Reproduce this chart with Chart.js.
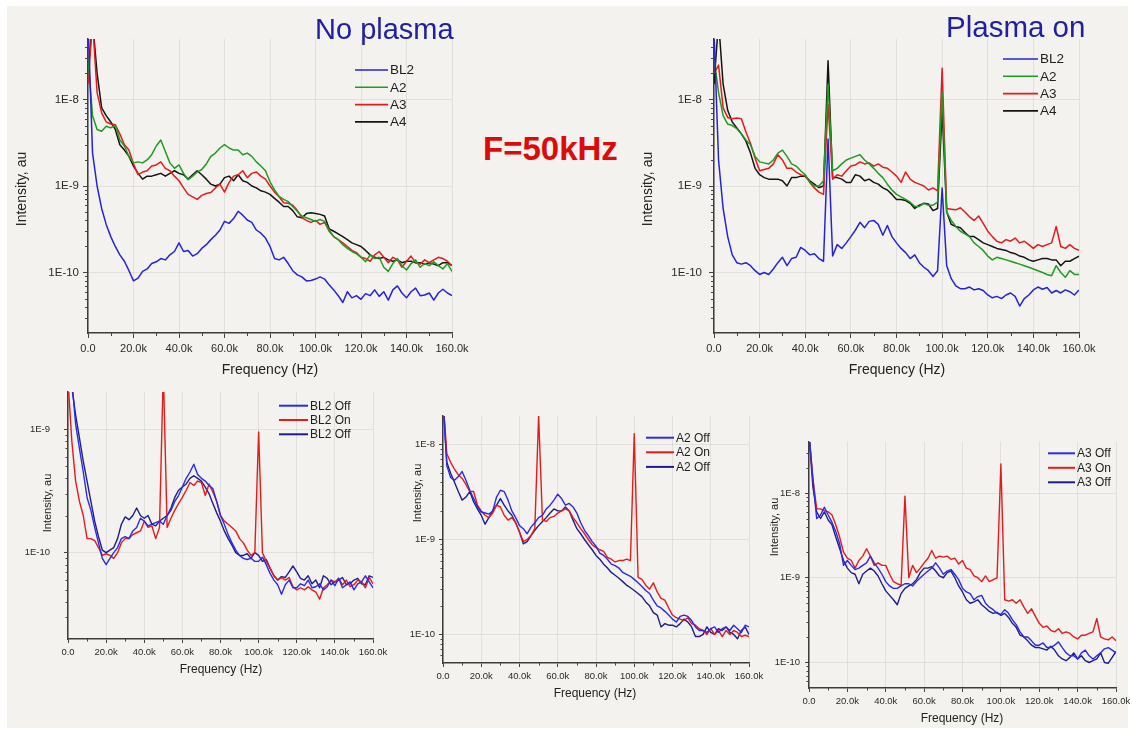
<!DOCTYPE html>
<html><head><meta charset="utf-8">
<script src="https://cdn.jsdelivr.net/npm/chart.js@4.4.1/dist/chart.umd.min.js"></script>
<style>
html,body{margin:0;padding:0;background:#fff;}
#page{position:relative;width:1132px;height:729px;overflow:hidden;background:#fff;font-family:'Liberation Sans',Arial,sans-serif;}
#bg{position:absolute;left:7px;top:6px;width:1121px;height:722px;background:#f3f2ee;}
canvas{position:absolute;}
.ttl{position:absolute;white-space:nowrap;line-height:1;}
#t1{left:315px;top:15px;font-size:29px;color:#2020a0;}
#t2{left:946px;top:12px;font-size:29.5px;color:#2020a0;}
#t3{left:483px;top:132px;font-size:33px;font-weight:bold;color:#dd0a0a;}
</style></head>
<body><div id="page"><div id="bg"></div>
<canvas id="c1"></canvas><canvas id="c2"></canvas><canvas id="c3"></canvas><canvas id="c4"></canvas><canvas id="c5"></canvas>
<div class="ttl" id="t1">No plasma</div>
<div class="ttl" id="t2">Plasma on</div>
<div class="ttl" id="t3">F=50kHz</div>
</div>
<script>
// ---------- categories (frequency, kHz) ----------
const FREQ_KHZ = [0,2,4,6,8,10,12,14,16,18,20,22,24,26,28,30,32,34,36,38,40,42,44,46,48,50,52,54,56,58,60,62,64,66,68,70,72,74,76,78,80,82,84,86,88,90,92,94,96,98,100,102,104,106,108,110,112,114,116,118,120,122,124,126,128,130,132,134,136,138,140,142,144,146,148,150,152,154,156,158,160];
const X_TICKS = [0,20,40,60,80,100,120,140,160];
const X_TICK_LABELS = ['0.0','20.0k','40.0k','60.0k','80.0k','100.0k','120.0k','140.0k','160.0k'];
const X_MINOR = [10,30,50,70,90,110,130,150];
const Y_TICKS_3DEC = [1e-10,1e-9,1e-8];
const Y_LABELS_3DEC = ['1E-10','1E-9','1E-8'];
const Y_TICKS_2DEC = [1e-10,1e-9];
const Y_LABELS_2DEC = ['1E-10','1E-9'];

// ---------- Panel 1: No plasma ----------
const NP_BL2 = [
8e-8,2.4e-9,1.0e-9,5.5e-10,3.6e-10,2.6e-10,2.0e-10,1.6e-10,1.35e-10,1.05e-10,
8.0e-11,8.6e-11,1.03e-10,1.1e-10,1.27e-10,1.33e-10,1.45e-10,1.4e-10,1.6e-10,1.75e-10,
2.2e-10,1.75e-10,1.8e-10,1.55e-10,1.65e-10,1.9e-10,2.1e-10,2.4e-10,2.7e-10,3.1e-10,
3.9e-10,3.7e-10,4.2e-10,5.1e-10,4.6e-10,4.05e-10,3.8e-10,3.1e-10,2.85e-10,2.5e-10,
2.0e-10,1.45e-10,1.4e-10,1.5e-10,1.27e-10,1.05e-10,9.4e-11,8.9e-11,8.0e-11,8.1e-11,
8.4e-11,8.9e-11,8.4e-11,7.2e-11,6.3e-11,5.4e-11,4.5e-11,6.0e-11,5.1e-11,5.4e-11,
4.9e-11,5.7e-11,5.4e-11,6.3e-11,5.3e-11,6.0e-11,4.8e-11,6.3e-11,7.0e-11,5.8e-11,
5.1e-11,6.0e-11,6.6e-11,5.4e-11,5.5e-11,5.8e-11,4.8e-11,5.8e-11,6.4e-11,5.8e-11,
5.4e-11];
const NP_A2 = [
3e-8,6.5e-9,4.5e-9,4.3e-9,4.9e-9,4.7e-9,5.1e-9,3.4e-9,2.9e-9,2.2e-9,
1.85e-9,1.9e-9,1.85e-9,2.0e-9,2.3e-9,2.9e-9,3.4e-9,2.5e-9,1.85e-9,1.6e-9,
1.75e-9,1.4e-9,1.18e-9,1.3e-9,1.45e-9,1.55e-9,1.8e-9,2.2e-9,2.4e-9,2.75e-9,
3.0e-9,2.75e-9,2.6e-9,2.6e-9,2.3e-9,2.4e-9,2.2e-9,1.9e-9,1.7e-9,1.5e-9,
1.12e-9,9.0e-10,7.6e-10,7.0e-10,6.6e-10,5.8e-10,5.1e-10,4.5e-10,4.3e-10,4.1e-10,
3.9e-10,4.1e-10,3.9e-10,3.1e-10,2.6e-10,2.4e-10,2.1e-10,1.9e-10,1.75e-10,1.65e-10,
1.5e-10,1.33e-10,1.6e-10,1.45e-10,1.5e-10,1.15e-10,1.03e-10,1.27e-10,1.45e-10,1.2e-10,
1.07e-10,1.27e-10,1.4e-10,1.15e-10,1.27e-10,1.2e-10,1.33e-10,1.2e-10,1.1e-10,1.27e-10,
1.03e-10];
const NP_A3 = [
1.5e-8,8e-8,1.2e-8,7e-9,5.5e-9,5.2e-9,5.1e-9,4.0e-9,3.0e-9,2.6e-9,
1.8e-9,1.35e-9,1.45e-9,1.5e-9,1.7e-9,1.75e-9,1.9e-9,1.6e-9,1.5e-9,1.3e-9,
1.15e-9,9.5e-10,8.0e-10,7.5e-10,7.0e-10,7.8e-10,8.2e-10,8.4e-10,9.5e-10,1.05e-9,
8.5e-10,1.1e-9,1.3e-9,1.35e-9,1.5e-9,1.25e-9,1.4e-9,1.45e-9,1.3e-9,1.2e-9,
1.0e-9,8.5e-10,7.5e-10,6.4e-10,6.3e-10,6.0e-10,5.2e-10,4.3e-10,4.0e-10,3.8e-10,
4.0e-10,3.6e-10,3.8e-10,3.0e-10,2.6e-10,2.4e-10,2.2e-10,2.0e-10,1.8e-10,1.7e-10,
1.5e-10,1.45e-10,1.35e-10,1.6e-10,1.75e-10,1.5e-10,1.3e-10,1.5e-10,1.4e-10,1.15e-10,
1.35e-10,1.55e-10,1.3e-10,1.25e-10,1.4e-10,1.3e-10,1.4e-10,1.5e-10,1.45e-10,1.35e-10,
1.2e-10];
const NP_A4 = [
2e-8,8e-8,2e-8,8e-9,6.5e-9,5.5e-9,4.5e-9,3.0e-9,2.6e-9,2.2e-9,
1.7e-9,1.4e-9,1.2e-9,1.3e-9,1.3e-9,1.35e-9,1.4e-9,1.3e-9,1.4e-9,1.5e-9,
1.4e-9,1.35e-9,1.2e-9,1.35e-9,1.5e-9,1.35e-9,1.2e-9,1.05e-9,1.0e-9,1.05e-9,
1.25e-9,1.3e-9,1.15e-9,1.35e-9,1.15e-9,1.1e-9,1.0e-9,9.5e-10,8.8e-10,8.5e-10,
8.0e-10,7.2e-10,6.5e-10,5.8e-10,5.8e-10,5.2e-10,4.4e-10,4.3e-10,4.8e-10,4.9e-10,
4.8e-10,4.7e-10,4.5e-10,3.2e-10,3.0e-10,2.8e-10,2.6e-10,2.4e-10,2.2e-10,2.1e-10,
2.0e-10,1.8e-10,1.6e-10,1.5e-10,1.45e-10,1.5e-10,1.4e-10,1.35e-10,1.4e-10,1.3e-10,
1.35e-10,1.35e-10,1.3e-10,1.3e-10,1.25e-10,1.3e-10,1.25e-10,1.2e-10,1.3e-10,1.3e-10,
1.2e-10];

// ---------- Panel 2: Plasma on ----------
const PO_BL2 = [
6e-8,2e-9,5.5e-10,2.6e-10,1.6e-10,1.3e-10,1.25e-10,1.3e-10,1.2e-10,1.05e-10,
9.5e-11,1.0e-10,9.5e-11,1.1e-10,1.3e-10,1.5e-10,1.2e-10,1.45e-10,1.5e-10,1.95e-10,
1.8e-10,1.6e-10,1.65e-10,1.45e-10,1.35e-10,3.5e-9,1.55e-10,2.1e-10,1.9e-10,2.2e-10,
2.6e-10,3.1e-10,3.8e-10,3.3e-10,3.9e-10,4.0e-10,3.6e-10,2.7e-10,3.5e-10,2.6e-10,
2.2e-10,1.9e-10,1.7e-10,1.45e-10,1.6e-10,1.3e-10,1.15e-10,1.05e-10,9.0e-11,1.05e-10,
9.5e-10,1.2e-10,8.5e-11,7.0e-11,6.5e-11,6.5e-11,6.8e-11,6.3e-11,6.5e-11,6.2e-11,
5.5e-11,5.1e-11,5.3e-11,5.0e-11,5.5e-11,5.8e-11,5.3e-11,4.1e-11,5.0e-11,5.5e-11,
6.3e-11,6.8e-11,6.4e-11,6.7e-11,5.8e-11,6.2e-11,5.8e-11,6.3e-11,6.0e-11,5.5e-11,
6.3e-11];
const PO_A2 = [
3e-8,1.2e-8,6.5e-9,5.2e-9,5.0e-9,4.6e-9,4.0e-9,3.4e-9,3.0e-9,2.2e-9,
1.9e-9,1.85e-9,1.8e-9,2.0e-9,2.4e-9,2.6e-9,2.2e-9,1.8e-9,1.7e-9,1.5e-9,
1.35e-9,1.1e-9,1.0e-9,1.0e-9,1.15e-9,1.5e-8,1.5e-9,1.6e-9,1.8e-9,2.0e-9,
2.1e-9,2.2e-9,2.3e-9,2.0e-9,1.8e-9,1.6e-9,1.4e-9,1.25e-9,1.05e-9,9.0e-10,
8.0e-10,7.5e-10,7.0e-10,6.5e-10,5.8e-10,5.8e-10,6.3e-10,6.0e-10,6.0e-10,6.5e-10,
1.2e-8,5.0e-10,4.0e-10,3.4e-10,3.0e-10,2.8e-10,2.6e-10,2.2e-10,2.0e-10,1.8e-10,
1.55e-10,1.4e-10,1.5e-10,1.45e-10,1.4e-10,1.35e-10,1.3e-10,1.25e-10,1.2e-10,1.15e-10,
1.1e-10,1.05e-10,1.0e-10,9.5e-11,9.2e-11,1.2e-10,1.0e-10,8.8e-11,1.05e-10,9.5e-11,
9.5e-11];
const PO_A3 = [
2e-8,2.5e-8,8e-9,6.2e-9,6e-9,6.1e-9,6.0e-9,4.2e-9,3.1e-9,2.1e-9,
1.5e-9,1.55e-9,1.6e-9,1.8e-9,2.3e-9,2.0e-9,1.6e-9,1.6e-9,1.45e-9,1.35e-9,
1.3e-9,1.1e-9,9.5e-10,8.5e-10,8.0e-10,8.8e-9,1.2e-9,1.35e-9,1.3e-9,1.5e-9,
1.7e-9,1.75e-9,1.9e-9,1.8e-9,1.85e-9,1.7e-9,1.8e-9,1.65e-9,1.6e-9,1.45e-9,
1.3e-9,1.1e-9,1.45e-9,1.2e-9,1.1e-9,1.05e-9,1.0e-9,9.0e-10,9.5e-10,8.8e-10,
2.3e-8,5.5e-10,5.4e-10,5.3e-10,5.6e-10,5.0e-10,4.4e-10,4.0e-10,4.5e-10,3.7e-10,
3.0e-10,2.6e-10,2.3e-10,2.2e-10,2.4e-10,2.3e-10,2.5e-10,2.2e-10,2.3e-10,2.1e-10,
1.9e-10,2.1e-10,2.0e-10,2.1e-10,2.2e-10,3.4e-10,2.0e-10,1.9e-10,2.1e-10,1.9e-10,
1.8e-10];
const PO_A4 = [
1.5e-8,8e-8,1.5e-8,7.5e-9,5.5e-9,4.7e-9,4.0e-9,3.3e-9,2.4e-9,1.6e-9,
1.35e-9,1.25e-9,1.2e-9,1.2e-9,1.2e-9,1.15e-9,1.0e-9,1.25e-9,1.25e-9,1.3e-9,
1.3e-9,1.15e-9,1.05e-9,9.6e-10,1.0e-9,2.8e-8,1.25e-9,1.25e-9,1.2e-9,1.1e-9,
1.1e-9,1.35e-9,1.3e-9,1.15e-9,1.2e-9,1.1e-9,1.05e-9,9.5e-10,9.0e-10,8.0e-10,
7.0e-10,7.0e-10,6.8e-10,6.3e-10,5.5e-10,6.0e-10,6.3e-10,6.2e-10,5.2e-10,5.5e-10,
7.5e-9,5.0e-10,3.6e-10,3.4e-10,3.3e-10,2.9e-10,2.6e-10,2.6e-10,2.4e-10,2.2e-10,
2.1e-10,2.0e-10,1.9e-10,1.85e-10,1.8e-10,1.7e-10,1.65e-10,1.55e-10,1.5e-10,1.4e-10,
1.35e-10,1.4e-10,1.45e-10,1.45e-10,1.4e-10,1.4e-10,1.2e-10,1.35e-10,1.35e-10,1.45e-10,
1.55e-10];

// ---------- Panel 3: BL2 off/on/off ----------
const BL2_OFF_1 = [
3e-9,2.5e-9,1.1e-9,7e-10,4.5e-10,2.8e-10,2.2e-10,1.6e-10,1.2e-10,9.0e-11,
8.0e-11,9.0e-11,1.0e-10,1.1e-10,1.3e-10,1.35e-10,1.3e-10,1.5e-10,1.6e-10,1.9e-10,
1.8e-10,1.65e-10,1.7e-10,1.75e-10,1.8e-10,1.7e-10,2.0e-10,2.2e-10,2.6e-10,2.9e-10,
3.4e-10,4.0e-10,4.5e-10,5.2e-10,4.3e-10,4.0e-10,3.8e-10,3.5e-10,3.3e-10,2.6e-10,
2.0e-10,1.7e-10,1.4e-10,1.2e-10,1.05e-10,9.5e-11,9.0e-11,8.8e-11,9.0e-11,8.5e-11,
8.5e-11,9.2e-11,8.0e-11,6.8e-11,6.0e-11,5.5e-11,4.6e-11,5.5e-11,6.0e-11,5.2e-11,
5.2e-11,5.6e-11,5.4e-11,6.0e-11,5.2e-11,5.3e-11,5.6e-11,5.0e-11,5.3e-11,6.0e-11,
5.4e-11,6.2e-11,5.2e-11,5.5e-11,5.8e-11,5.0e-11,5.6e-11,5.8e-11,6.5e-11,5.8e-11,
5.2e-11];
const BL2_ON = [
2.5e-9,8e-10,3.8e-10,2.6e-10,2.0e-10,1.3e-10,1.3e-10,1.25e-10,1.1e-10,9.5e-11,
9.8e-11,9.5e-11,9.0e-11,1.0e-10,1.2e-10,1.3e-10,1.3e-10,1.4e-10,1.45e-10,1.5e-10,
1.8e-10,1.6e-10,1.65e-10,1.3e-10,1.6e-10,3e-9,1.6e-10,1.9e-10,2.2e-10,2.5e-10,
2.8e-10,3.2e-10,3.7e-10,3.5e-10,3.8e-10,3.7e-10,2.9e-10,3.6e-10,3.1e-10,2.6e-10,
2.0e-10,1.8e-10,1.7e-10,1.6e-10,1.5e-10,1.3e-10,1.2e-10,1.05e-10,9.5e-11,1.0e-10,
9.5e-10,1.0e-10,8.5e-11,7.5e-11,6.5e-11,6.0e-11,6.3e-11,6.0e-11,6.3e-11,5.3e-11,
5.0e-11,5.2e-11,5.0e-11,5.3e-11,5.0e-11,4.8e-11,4.2e-11,5.2e-11,5.5e-11,6.0e-11,
5.8e-11,6.2e-11,5.5e-11,6.0e-11,5.3e-11,5.5e-11,6.0e-11,5.8e-11,5.2e-11,6.3e-11,
5.6e-11];
const BL2_OFF_2 = [
3e-9,2.2e-9,1.3e-9,8.5e-10,5.5e-10,3.8e-10,2.6e-10,1.8e-10,1.35e-10,1.05e-10,
1.0e-10,1.05e-10,1.1e-10,1.3e-10,1.7e-10,1.95e-10,1.85e-10,2.0e-10,2.3e-10,2.0e-10,
1.9e-10,2.0e-10,1.7e-10,1.65e-10,1.8e-10,1.9e-10,2.0e-10,2.3e-10,2.8e-10,3.2e-10,
3.4e-10,3.6e-10,4.0e-10,4.2e-10,4.0e-10,3.8e-10,3.4e-10,3.0e-10,2.5e-10,2.1e-10,
1.8e-10,1.5e-10,1.3e-10,1.15e-10,1.0e-10,9.5e-11,9.5e-11,9.8e-11,9.0e-11,1.0e-10,
9.5e-11,8.5e-11,8.8e-11,7.5e-11,6.5e-11,6.0e-11,6.4e-11,6.3e-11,7.0e-11,7.8e-11,
7.0e-11,6.2e-11,6.0e-11,6.5e-11,5.6e-11,6.0e-11,5.2e-11,6.5e-11,6.2e-11,5.5e-11,
5.8e-11,6.0e-11,6.3e-11,5.5e-11,5.6e-11,6.0e-11,6.2e-11,5.6e-11,5.5e-11,6.5e-11,
6.3e-11];

// ---------- Panel 4: A2 off/on/off ----------
const A2_OFF_1 = [
3e-8,6.0e-9,4.5e-9,4.2e-9,4.6e-9,5.2e-9,4.2e-9,3.3e-9,2.7e-9,2.2e-9,
1.95e-9,1.9e-9,1.85e-9,2.0e-9,2.8e-9,3.3e-9,3.2e-9,2.6e-9,2.0e-9,1.7e-9,
1.4e-9,1.3e-9,1.15e-9,1.35e-9,1.5e-9,1.7e-9,1.8e-9,2.1e-9,2.3e-9,2.6e-9,
3.0e-9,2.7e-9,2.3e-9,2.4e-9,2.2e-9,1.9e-9,1.5e-9,1.25e-9,1.1e-9,9.5e-10,
8.5e-10,7.2e-10,6.8e-10,6.2e-10,5.5e-10,5.3e-10,5.0e-10,4.5e-10,4.3e-10,4.1e-10,
3.8e-10,3.5e-10,3.2e-10,2.9e-10,2.7e-10,2.3e-10,2.0e-10,1.9e-10,1.75e-10,1.6e-10,
1.45e-10,1.35e-10,1.55e-10,1.6e-10,1.55e-10,1.4e-10,1.2e-10,1.1e-10,1.1e-10,1.05e-10,
1.15e-10,1.2e-10,1.05e-10,1.15e-10,1.2e-10,1.1e-10,1.25e-10,1.15e-10,1.05e-10,1.25e-10,
1.2e-10];
const A2_ON = [
3e-8,8e-9,6.5e-9,5.5e-9,4.8e-9,4.4e-9,3.8e-9,3.2e-9,3.2e-9,2.3e-9,
2.0e-9,1.8e-9,1.7e-9,1.9e-9,2.3e-9,2.2e-9,1.8e-9,1.6e-9,1.7e-9,1.5e-9,
1.2e-9,9.5e-10,1.0e-9,1.1e-9,1.3e-9,2.0e-8,1.6e-9,1.55e-9,1.7e-9,1.75e-9,
1.9e-9,2.0e-9,2.1e-9,2.0e-9,1.7e-9,1.5e-9,1.3e-9,1.15e-9,1.0e-9,8.8e-10,
8.2e-10,7.8e-10,7.5e-10,6.5e-10,6.2e-10,5.8e-10,6.0e-10,6.0e-10,6.2e-10,6.0e-10,
1.3e-8,4.0e-10,3.8e-10,3.3e-10,3.0e-10,3.5e-10,2.8e-10,2.4e-10,2.3e-10,1.9e-10,
1.6e-10,1.5e-10,1.45e-10,1.4e-10,1.5e-10,1.3e-10,1.25e-10,1.15e-10,1.1e-10,1.0e-10,
1.15e-10,1.0e-10,1.1e-10,9.5e-11,1.1e-10,1.0e-10,1.1e-10,1.05e-10,9.5e-11,9.8e-11,
9.5e-11];
const A2_OFF_2 = [
3e-8,6.5e-9,5.0e-9,4.0e-9,3.2e-9,2.6e-9,2.8e-9,3.2e-9,2.5e-9,2.1e-9,
1.8e-9,1.45e-9,1.7e-9,2.0e-9,2.3e-9,2.7e-9,2.3e-9,2.0e-9,1.8e-9,1.5e-9,
1.2e-9,9.0e-10,9.5e-10,1.1e-9,1.25e-9,1.4e-9,1.55e-9,1.7e-9,1.9e-9,2.1e-9,
2.0e-9,2.0e-9,2.2e-9,2.0e-9,1.6e-9,1.3e-9,1.15e-9,1.0e-9,8.8e-10,7.8e-10,
6.8e-10,6.2e-10,5.5e-10,5.0e-10,4.5e-10,4.2e-10,3.9e-10,3.6e-10,3.3e-10,3.1e-10,
2.9e-10,2.7e-10,2.5e-10,2.2e-10,2.0e-10,1.7e-10,1.6e-10,1.2e-10,1.3e-10,1.25e-10,
1.25e-10,1.2e-10,1.3e-10,1.45e-10,1.35e-10,1.2e-10,9.5e-11,9.5e-11,1.0e-10,1.2e-10,
1.05e-10,1.0e-10,1.15e-10,1.1e-10,1.2e-10,1.05e-10,1.0e-10,9.0e-11,1.1e-10,1.2e-10,
1.0e-10];

// ---------- Panel 5: A3 off/on/off ----------
const A3_OFF_1 = [
5e-8,1.5e-8,5.0e-9,5.5e-9,6.8e-9,5.5e-9,4.5e-9,3.5e-9,2.5e-9,1.4e-9,
1.6e-9,1.4e-9,1.25e-9,1.3e-9,1.4e-9,1.5e-9,1.8e-9,1.5e-9,1.3e-9,1.1e-9,
9.0e-10,8.0e-10,7.5e-10,7.5e-10,8.0e-10,8.5e-10,8.5e-10,8.0e-10,9.0e-10,1.0e-9,
1.1e-9,1.2e-9,1.3e-9,1.5e-9,1.3e-9,1.1e-9,1.2e-9,1.25e-9,1.1e-9,9.5e-10,
7.5e-10,6.8e-10,6.5e-10,5.5e-10,6.0e-10,6.2e-10,5.0e-10,4.5e-10,4.2e-10,3.8e-10,
3.7e-10,4.2e-10,3.8e-10,3.2e-10,2.8e-10,2.3e-10,2.0e-10,2.0e-10,1.8e-10,1.6e-10,
1.6e-10,1.7e-10,1.5e-10,1.5e-10,1.6e-10,1.75e-10,1.5e-10,1.3e-10,1.2e-10,1.2e-10,
1.1e-10,1.3e-10,1.4e-10,1.2e-10,1.1e-10,1.2e-10,1.3e-10,1.45e-10,1.5e-10,1.4e-10,
1.3e-10];
const A3_ON = [
5e-8,1.5e-8,6.5e-9,6.5e-9,6.2e-9,6.0e-9,5.5e-9,4.2e-9,3.0e-9,2.0e-9,
1.7e-9,1.6e-9,1.3e-9,1.6e-9,1.8e-9,2.2e-9,1.8e-9,1.4e-9,1.5e-9,1.4e-9,
1.4e-9,1.1e-9,9.0e-10,8.5e-10,8.2e-10,9.2e-9,1.0e-9,1.4e-9,1.15e-9,1.3e-9,
1.5e-9,1.7e-9,2.1e-9,1.7e-9,1.8e-9,1.75e-9,1.8e-9,1.65e-9,1.7e-9,1.45e-9,
1.6e-9,1.3e-9,1.25e-9,1.05e-9,1.0e-9,9.0e-10,1.05e-9,9.0e-10,9.5e-10,1.0e-9,
2.2e-8,5.5e-10,5.3e-10,5.5e-10,5.0e-10,5.5e-10,4.5e-10,3.8e-10,4.3e-10,3.5e-10,
2.9e-10,2.6e-10,2.7e-10,2.4e-10,2.3e-10,2.5e-10,2.2e-10,2.3e-10,2.2e-10,2.0e-10,
1.9e-10,2.1e-10,2.1e-10,2.2e-10,2.3e-10,3.3e-10,2.0e-10,1.9e-10,1.85e-10,2.0e-10,
1.8e-10];
const A3_OFF_2 = [
5e-8,1.2e-8,6.0e-9,5.0e-9,6.0e-9,4.8e-9,4.2e-9,3.0e-9,2.2e-9,1.6e-9,
1.3e-9,1.15e-9,1.1e-9,8.5e-10,1.1e-9,1.2e-9,1.3e-9,1.2e-9,1.05e-9,8.5e-10,
7.0e-10,6.2e-10,5.5e-10,4.8e-10,6.5e-10,7.5e-10,8.0e-10,8.5e-10,9.5e-10,1.15e-9,
1.3e-9,1.3e-9,1.35e-9,1.2e-9,1.05e-9,1.0e-9,1.15e-9,1.2e-9,1.0e-9,8.0e-10,
6.8e-10,5.5e-10,5.0e-10,5.2e-10,5.5e-10,4.8e-10,4.4e-10,4.0e-10,3.8e-10,3.9e-10,
3.6e-10,3.8e-10,3.4e-10,2.9e-10,2.6e-10,2.1e-10,2.0e-10,1.8e-10,1.6e-10,1.5e-10,
1.5e-10,1.45e-10,1.4e-10,1.55e-10,1.4e-10,1.2e-10,1.1e-10,1.05e-10,1.15e-10,1.3e-10,
1.1e-10,1.2e-10,1.05e-10,1.0e-10,1.05e-10,1.1e-10,1.3e-10,1.0e-10,9.8e-11,1.15e-10,
1.35e-10];

// ---------- styling ----------
const FONT = "'Liberation Sans', Arial, sans-serif";
const C_BLUE = '#2424d6', C_GREEN = '#1f9b1f', C_RED = '#e21c1c', C_BLACK = '#141414';
const C_BLUE_B = '#2b2be2', C_NAVY = '#1d1d8c';
Chart.defaults.font.family = FONT;

const decorPlugin = {
  id: 'decor',
  afterDraw(chart, args, o) {
    const ctx = chart.ctx, a = chart.chartArea, xs = chart.scales.x, ys = chart.scales.y;
    const ox = o.box[0], oy = o.box[1];
    ctx.save();
    ctx.strokeStyle = '#444'; ctx.lineWidth = 1;
    ctx.beginPath();
    X_MINOR.forEach(v => {
      const px = Math.round(xs.getPixelForValue(v)) + 0.5;
      ctx.moveTo(px, a.bottom); ctx.lineTo(px, a.bottom + o.minorLen);
    });
    for (let e = -12; e <= -7; e++) {
      for (let k = 2; k <= 9; k++) {
        const v = k * Math.pow(10, e);
        if (v > ys.min && v < ys.max) {
          const py = Math.round(ys.getPixelForValue(v)) + 0.5;
          ctx.moveTo(a.left, py); ctx.lineTo(a.left - o.minorLen, py);
        }
      }
    }
    ctx.stroke();
    // axis titles
    ctx.fillStyle = '#222';
    ctx.textAlign = 'center'; ctx.textBaseline = 'middle';
    ctx.font = o.xTitleSize + 'px ' + FONT;
    ctx.fillText(o.xTitle, o.xTitlePos[0] - ox, o.xTitlePos[1] - oy);
    ctx.save();
    ctx.translate(o.yTitlePos[0] - ox, o.yTitlePos[1] - oy);
    ctx.rotate(-Math.PI / 2);
    ctx.font = o.yTitleSize + 'px ' + FONT;
    ctx.fillText(o.yTitle, 0, 0);
    ctx.restore();
    // legend
    const L = o.legend;
    ctx.font = L.size + 'px ' + FONT;
    ctx.textAlign = 'left';
    chart.data.datasets.forEach((ds, i) => {
      const y = L.y - oy + i * L.dy;
      const x = L.x - ox;
      ctx.strokeStyle = ds.borderColor; ctx.lineWidth = L.lw;
      ctx.beginPath(); ctx.moveTo(x, y); ctx.lineTo(x + L.len, y); ctx.stroke();
      ctx.fillStyle = '#1e1e1e';
      ctx.fillText(ds.label, x + L.len + 2, y + 0.5);
    });
    ctx.restore();
  }
};

function zeroPad(s) { s.paddingTop = 0; s.paddingBottom = 0; s.paddingLeft = 0; s.paddingRight = 0; }

function makePanel(p) {
  const cv = document.getElementById(p.id);
  const [bx, by, bw, bh] = p.box;
  const [L, R, T, B] = p.area;
  cv.style.left = bx + 'px'; cv.style.top = by + 'px';
  cv.width = bw; cv.height = bh;
  const yW = L - bx, xH = by + bh - B;
  new Chart(cv, {
    type: 'line',
    data: {
      datasets: p.series.map(s => ({
        label: s.label,
        data: FREQ_KHZ.map((f, i) => ({ x: f, y: s.values[i] })),
        borderColor: s.color, borderWidth: p.lw, pointRadius: 0, tension: 0,
        fill: false, borderJoinStyle: 'round'
      }))
    },
    options: {
      responsive: false, animation: false, devicePixelRatio: 1,
      layout: { padding: { left: 0, top: T - by, right: bx + bw - R, bottom: 0 } },
      plugins: {
        legend: { display: false }, tooltip: { enabled: false },
        decor: { box: p.box, minorLen: p.minorLen, xTitle: 'Frequency (Hz)', xTitlePos: p.xTitlePos,
                 xTitleSize: p.xTitleSize, yTitle: 'Intensity, au', yTitlePos: p.yTitlePos,
                 yTitleSize: p.yTitleSize, legend: p.legend }
      },
      scales: {
        x: {
          type: 'linear', min: 0, max: 160,
          afterFit: s => { s.height = xH; zeroPad(s); },
          afterBuildTicks: s => { s.ticks = X_TICKS.map(v => ({ value: v })); },
          ticks: { callback: (v, i) => X_TICK_LABELS[i], color: '#2a2a2a', font: { size: p.xTickSize },
                   padding: p.xTickPad, maxRotation: 0, minRotation: 0, autoSkip: false },
          grid: { color: 'rgba(0,0,0,0.075)', lineWidth: 1, tickLength: p.tickLen, tickColor: '#444', tickWidth: 1 },
          border: { display: true, color: '#3c3c3c', width: 1.5 }
        },
        y: {
          type: 'logarithmic', min: p.ymin, max: p.ymax,
          afterFit: s => { s.width = yW; zeroPad(s); },
          afterBuildTicks: s => { s.ticks = p.yTicks.map(v => ({ value: v })); },
          ticks: { callback: (v, i) => p.yLabels[i], color: '#2a2a2a', font: { size: p.yTickSize },
                   padding: p.yTickPad, autoSkip: false },
          grid: { color: 'rgba(0,0,0,0.075)', lineWidth: 1, tickLength: p.tickLen, tickColor: '#444', tickWidth: 1 },
          border: { display: true, color: '#3c3c3c', width: 1.5 }
        }
      }
    },
    plugins: [decorPlugin]
  });
}

makePanel({ id: 'c1', box: [8, 24, 466, 360], area: [88, 452, 39, 333], ymin: 2e-11, ymax: 5e-8,
  yTicks: Y_TICKS_3DEC, yLabels: Y_LABELS_3DEC, lw: 1.5, tickLen: 5, minorLen: 3,
  xTickSize: 11, yTickSize: 11.5, xTickPad: 4, yTickPad: 4,
  xTitlePos: [270, 370], xTitleSize: 14, yTitlePos: [22, 189], yTitleSize: 14,
  legend: { x: 355, len: 33, y: 70, dy: 17.3, size: 13.5, lw: 1.6 },
  series: [ { label: 'BL2', values: NP_BL2, color: C_BLUE }, { label: 'A2', values: NP_A2, color: C_GREEN },
            { label: 'A3', values: NP_A3, color: C_RED }, { label: 'A4', values: NP_A4, color: C_BLACK } ] });

makePanel({ id: 'c2', box: [640, 24, 480, 360], area: [714, 1079, 39, 333], ymin: 2e-11, ymax: 5e-8,
  yTicks: Y_TICKS_3DEC, yLabels: Y_LABELS_3DEC, lw: 1.5, tickLen: 5, minorLen: 3,
  xTickSize: 11, yTickSize: 11.5, xTickPad: 4, yTickPad: 7,
  xTitlePos: [897, 370], xTitleSize: 14, yTitlePos: [648, 189], yTitleSize: 14,
  legend: { x: 1003, len: 35, y: 59, dy: 17.3, size: 13.5, lw: 1.6 },
  series: [ { label: 'BL2', values: PO_BL2, color: C_BLUE }, { label: 'A2', values: PO_A2, color: C_GREEN },
            { label: 'A3', values: PO_A3, color: C_RED }, { label: 'A4', values: PO_A4, color: C_BLACK } ] });

makePanel({ id: 'c3', box: [8, 380, 380, 300], area: [68, 373, 392, 639], ymin: 2e-11, ymax: 2e-9,
  yTicks: Y_TICKS_2DEC, yLabels: Y_LABELS_2DEC, lw: 1.4, tickLen: 4, minorLen: 2.5,
  xTickSize: 9.5, yTickSize: 9.5, xTickPad: 4, yTickPad: 14,
  xTitlePos: [221, 670], xTitleSize: 12, yTitlePos: [48, 503], yTitleSize: 11,
  legend: { x: 279, len: 29, y: 405.7, dy: 14.3, size: 12, lw: 2 },
  series: [ { label: 'BL2 Off', values: BL2_OFF_1, color: C_BLUE_B }, { label: 'BL2 On', values: BL2_ON, color: C_RED },
            { label: 'BL2 Off', values: BL2_OFF_2, color: C_NAVY } ] });

makePanel({ id: 'c4', box: [392, 404, 372, 300], area: [443, 749, 416, 663], ymin: 5e-11, ymax: 2e-8,
  yTicks: Y_TICKS_3DEC, yLabels: Y_LABELS_3DEC, lw: 1.4, tickLen: 4, minorLen: 2.5,
  xTickSize: 9.5, yTickSize: 9.5, xTickPad: 4, yTickPad: 4,
  xTitlePos: [595, 694], xTitleSize: 12, yTitlePos: [418, 493], yTitleSize: 11,
  legend: { x: 646, len: 28, y: 437.7, dy: 14.6, size: 12, lw: 2 },
  series: [ { label: 'A2 Off', values: A2_OFF_1, color: C_BLUE_B }, { label: 'A2 On', values: A2_ON, color: C_RED },
            { label: 'A2 Off', values: A2_OFF_2, color: C_NAVY } ] });

makePanel({ id: 'c5', box: [760, 428, 372, 298], area: [809, 1116, 442, 688], ymin: 5e-11, ymax: 4e-8,
  yTicks: Y_TICKS_3DEC, yLabels: Y_LABELS_3DEC, lw: 1.4, tickLen: 4, minorLen: 2.5,
  xTickSize: 9.5, yTickSize: 9.5, xTickPad: 4, yTickPad: 5,
  xTitlePos: [962, 719], xTitleSize: 12, yTitlePos: [775, 527], yTitleSize: 11,
  legend: { x: 1048, len: 27, y: 453.3, dy: 14.5, size: 12, lw: 2 },
  series: [ { label: 'A3 Off', values: A3_OFF_1, color: C_BLUE_B }, { label: 'A3 On', values: A3_ON, color: C_RED },
            { label: 'A3 Off', values: A3_OFF_2, color: C_NAVY } ] });
</script>
</body></html>
